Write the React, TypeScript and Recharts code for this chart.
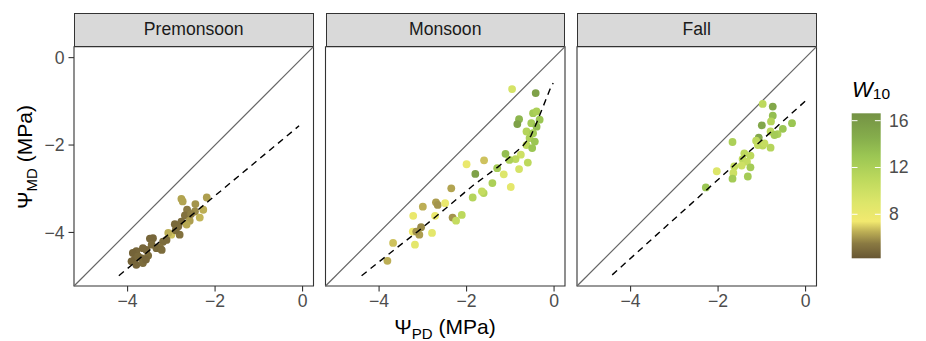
import React from 'react';
import { ScatterChart, Scatter, XAxis, YAxis, ReferenceLine, ReferenceArea } from 'recharts';

const FONT = '"Liberation Sans", Arial, Helvetica, sans-serif';
const DOMAIN: [number, number] = [-5.225, 0.25];
const AXIS_TICKS = [-4, -2, 0];
const PANEL_TITLES = ['Premonsoon', 'Monsoon', 'Fall'];

// Premonsoon
const preX = [-2.77, -2.74, -2.45, -2.19, -2.27, -2.46, -2.35, -2.64, -2.69, -2.58, -2.77, -2.84, -2.92, -2.65, -2.81, -3.0, -3.07, -3.11, -3.19, -3.26, -3.42, -3.49, -3.45, -3.34, -3.22, -3.57, -3.65, -3.53, -3.68, -3.8, -3.88, -3.84, -3.91, -3.8, -3.65, -3.76, -3.58, -2.55, -2.9];
const preY = [-3.23, -3.29, -3.35, -3.2, -3.48, -3.52, -3.66, -3.48, -3.61, -3.73, -3.75, -3.86, -3.81, -3.82, -4.05, -4.05, -4.01, -4.17, -4.21, -4.34, -4.13, -4.14, -4.28, -4.36, -4.4, -4.4, -4.36, -4.53, -4.59, -4.43, -4.47, -4.62, -4.66, -4.74, -4.7, -4.55, -4.62, -3.58, -3.95];
const preW = [6.3, 6.3, 6.0, 6.2, 6.5, 5.8, 6.6, 5.5, 5.2, 6.2, 5.0, 5.0, 4.9, 6.4, 5.2, 6.8, 6.5, 5.0, 5.0, 5.2, 4.8, 4.8, 5.0, 4.9, 5.0, 4.8, 4.8, 5.0, 4.9, 4.8, 4.7, 4.8, 4.7, 4.8, 5.0, 4.9, 4.8, 5.6, 5.0];
const preFitX = [-4.2, -0.08];
const preFitY = [-4.99, -1.56];

// Monsoon
const monX = [-0.96, -0.42, -0.8, -0.84, -0.48, -0.4, -0.33, -0.52, -0.4, -0.63, -0.48, -0.56, -0.44, -0.63, -0.5, -0.6, -0.76, -0.88, -0.8, -1.11, -1.02, -1.3, -1.15, -0.99, -1.41, -1.61, -1.65, -1.86, -1.8, -1.6, -2.0, -2.35, -2.7, -2.66, -2.49, -3.0, -3.22, -2.72, -2.32, -2.11, -2.24, -3.04, -3.23, -3.08, -3.15, -2.79, -3.68, -3.18, -3.81];
const monY = [-0.72, -0.81, -1.41, -1.52, -1.27, -1.23, -1.42, -1.5, -1.58, -1.69, -1.73, -1.84, -1.92, -2.0, -2.07, -2.4, -2.22, -2.32, -2.55, -2.2, -2.34, -2.53, -2.67, -2.96, -2.87, -3.1, -3.06, -3.2, -2.66, -2.35, -2.44, -2.99, -3.31, -3.37, -3.33, -3.41, -3.62, -3.62, -3.66, -3.6, -3.73, -3.88, -3.98, -4.05, -3.98, -4.01, -4.24, -4.28, -4.65];
const monW = [9.5, 15.5, 14, 15.5, 12.5, 12, 13, 12.5, 13.5, 11.5, 12.5, 12, 13, 11, 13, 11, 10, 11, 9.5, 13.5, 12, 12.5, 9, 8.5, 12, 11.5, 10.5, 11.5, 15.5, 6.8, 8, 6.3, 6.2, 6.0, 8, 6.5, 8, 8, 6, 11, 10.5, 5.8, 7.6, 6.2, 6.0, 8.5, 6.8, 8.5, 6.5];
const monFitX = [-4.4, -3.76, -3.12, -2.5, -1.86, -1.28, -0.98, -0.73, -0.53, -0.39, -0.25, -0.1, -0.02];
const monFitY = [-4.99, -4.48, -3.98, -3.47, -2.93, -2.5, -2.25, -2.04, -1.79, -1.47, -1.12, -0.74, -0.58];

// Fall
const fallX = [-0.98, -0.75, -0.75, -0.79, -1.0, -0.31, -0.52, -0.8, -0.64, -0.71, -1.07, -1.67, -1.13, -1.09, -0.98, -0.94, -0.8, -1.4, -1.26, -1.44, -1.34, -1.46, -1.26, -1.63, -1.65, -2.03, -1.67, -1.32, -2.28];
const fallY = [-1.06, -1.12, -1.33, -1.46, -1.55, -1.5, -1.63, -1.69, -1.75, -1.77, -1.83, -1.93, -1.9, -2.0, -2.01, -1.96, -2.06, -2.19, -2.24, -2.32, -2.38, -2.47, -2.51, -2.49, -2.64, -2.6, -2.77, -2.72, -2.97];
const fallW = [11, 15, 13.5, 11.5, 15, 13, 13, 11, 12, 12.5, 15, 12, 11, 10.5, 11, 10.5, 11.5, 11, 11, 11, 10.5, 10, 12.5, 10.5, 10, 9, 12.5, 12.5, 13];
const fallFitX = [-4.42, 0.01];
const fallFitY = [-4.97, -0.98];

// Colour scale (W10)
const W_RANGE: [number, number] = [4.24, 16.63];
const LEGEND_TICKS = [8, 12, 16];
const COLOR_STOPS: [number, string][] = [
  [4.24, '#675633'],
  [5.5, '#8a7a42'],
  [6.5, '#bcae55'],
  [7.4, '#f2e96f'],
  [9, '#dde66a'],
  [11, '#bdd95d'],
  [13, '#9bc653'],
  [14.5, '#86ae4c'],
  [16.63, '#749244'],
];

const hex = (h: string) => [1, 3, 5].map((i) => parseInt(h.slice(i, i + 2), 16));
const colorFor = (w: number) => {
  if (w <= COLOR_STOPS[0][0]) return COLOR_STOPS[0][1];
  for (let i = 1; i < COLOR_STOPS.length; i++) {
    const [v1, c1] = COLOR_STOPS[i];
    const [v0, c0] = COLOR_STOPS[i - 1];
    if (w <= v1) {
      const t = (w - v0) / (v1 - v0);
      const a = hex(c0), b = hex(c1);
      const c = a.map((x, k) => Math.round(x + (b[k] - x) * t));
      return `rgb(${c[0]},${c[1]},${c[2]})`;
    }
  }
  return COLOR_STOPS[COLOR_STOPS.length - 1][1];
};

const zip = (xs: number[], ys: number[], ws?: number[]) =>
  xs.map((x, i) => ({ x, y: ys[i], w: ws ? ws[i] : 0 }));

const fmt = (v: number) => (v < 0 ? '\u2212' + Math.abs(v) : String(v));

const PLOT_TOP = 46.7;
const PLOT_BOTTOM = 286;
const PLOT_W = 239.5;

type PanelProps = {
  title: string;
  chartLeft: number;
  chartWidth: number;
  marginLeft: number;
  marginRight: number;
  showY: boolean;
  points: { x: number; y: number; w: number }[];
  fit: { x: number; y: number; w: number }[];
};

const Dot = (props: any) => {
  const { cx, cy, payload } = props;
  if (cx == null || cy == null) return <g />;
  return <circle cx={cx} cy={cy} r={3.9} fill={colorFor(payload.w)} />;
};

const Panel = ({ title, chartLeft, chartWidth, marginLeft, marginRight, showY, points, fit }: PanelProps) => {
  const yWidth = showY ? 74 : 0;
  const plotLeft = chartLeft + marginLeft + yWidth;
  return (
    <>
      <div
        style={{
          position: 'absolute',
          left: plotLeft,
          top: 12.5,
          width: PLOT_W,
          height: PLOT_TOP - 12.5,
          boxSizing: 'border-box',
          background: '#d9d9d9',
          border: '1.1px solid #333',
          display: 'flex',
          alignItems: 'center',
          justifyContent: 'center',
          fontFamily: FONT,
          fontSize: 17.6,
          color: '#1a1a1a',
        }}
      >
        {title}
      </div>
      <div style={{ position: 'absolute', left: chartLeft, top: 0 }}>
        <ScatterChart
          width={chartWidth}
          height={341}
          margin={{ top: PLOT_TOP, right: marginRight, bottom: 0, left: marginLeft }}
        >
          <XAxis
            type="number"
            dataKey="x"
            domain={DOMAIN}
            allowDataOverflow
            ticks={AXIS_TICKS}
            interval={0}
            tickFormatter={fmt}
            axisLine={false}
            tickLine={{ stroke: '#333', strokeWidth: 1.1 }}
            tickSize={5.5}
            tickMargin={3}
            height={341 - PLOT_BOTTOM}
            tick={{ fill: '#4d4d4d', fontSize: 17.6, fontFamily: FONT }}
          />
          {showY ? (
            <YAxis
              type="number"
              dataKey="y"
              domain={DOMAIN}
              allowDataOverflow
              ticks={AXIS_TICKS}
              interval={0}
              tickFormatter={fmt}
              axisLine={false}
              tickLine={{ stroke: '#333', strokeWidth: 1.1 }}
              tickSize={5.5}
              tickMargin={4}
              width={74}
              tick={{ fill: '#4d4d4d', fontSize: 17.6, fontFamily: FONT }}
            />
          ) : (
            <YAxis type="number" dataKey="y" domain={DOMAIN} allowDataOverflow hide width={0} />
          )}
          <ReferenceLine
            segment={[
              { x: DOMAIN[0], y: DOMAIN[0] },
              { x: DOMAIN[1], y: DOMAIN[1] },
            ]}
            stroke="#666"
            strokeWidth={1.2}
            ifOverflow="visible"
          />
          <Scatter data={points} shape={Dot} isAnimationActive={false} />
          <Scatter
            data={fit}
            line={{ stroke: '#000', strokeWidth: 1.4, strokeDasharray: '6.5 5' }}
            lineType="joint"
            shape={() => <g />}
            isAnimationActive={false}
          />
          <ReferenceArea
            x1={DOMAIN[0]}
            x2={DOMAIN[1]}
            y1={DOMAIN[0]}
            y2={DOMAIN[1]}
            fill="none"
            fillOpacity={0}
            stroke="#333"
            strokeWidth={1.1}
            ifOverflow="visible"
          />
        </ScatterChart>
      </div>
    </>
  );
};

export default function App() {
  const barX = 851.7, barTop = 113.3, barBottom = 258.3, barW = 29;
  const vToY = (v: number) => barBottom - ((v - W_RANGE[0]) / (W_RANGE[1] - W_RANGE[0])) * (barBottom - barTop);
  return (
    <div style={{ position: 'absolute', left: 0, top: 0, width: 926, height: 341, background: '#fff', overflow: 'hidden' }}>
      <Panel title={PANEL_TITLES[0]} chartLeft={0} chartWidth={320} marginLeft={0} marginRight={320 - 74 - PLOT_W} showY points={zip(preX, preY, preW)} fit={zip(preFitX, preFitY)} />
      <Panel title={PANEL_TITLES[1]} chartLeft={320} chartWidth={250} marginLeft={5.5} marginRight={250 - 5.5 - PLOT_W} showY={false} points={zip(monX, monY, monW)} fit={zip(monFitX, monFitY)} />
      <Panel title={PANEL_TITLES[2]} chartLeft={570} chartWidth={250} marginLeft={7} marginRight={250 - 7 - PLOT_W} showY={false} points={zip(fallX, fallY, fallW)} fit={zip(fallFitX, fallFitY)} />
      <svg width={926} height={341} style={{ position: 'absolute', left: 0, top: 0, pointerEvents: 'none' }} fontFamily={FONT}>
        <defs>
          <linearGradient id="wgrad" x1="0" y1="1" x2="0" y2="0">
            {COLOR_STOPS.map(([v, c]) => (
              <stop key={v} offset={(v - W_RANGE[0]) / (W_RANGE[1] - W_RANGE[0])} stopColor={c} />
            ))}
          </linearGradient>
        </defs>
        <text transform="translate(32,157) rotate(-90)" textAnchor="middle" fontSize={21} fill="#000">
          Ψ<tspan dy={5} fontSize={15}>MD</tspan>
          <tspan dy={-5}> (MPa)</tspan>
        </text>
        <text x={445} y={334} textAnchor="middle" fontSize={21} fill="#000">
          Ψ<tspan dy={5} fontSize={15}>PD</tspan>
          <tspan dy={-5}> (MPa)</tspan>
        </text>
        <text x={852} y={97} fontSize={22} fill="#000">
          <tspan fontStyle="italic">W</tspan>
          <tspan dy={2} fontSize={15.5}>10</tspan>
        </text>
        <rect x={barX} y={barTop} width={barW} height={barBottom - barTop} fill="url(#wgrad)" />
        {LEGEND_TICKS.map((v) => (
          <g key={v}>
            <line x1={barX} x2={barX + 5.8} y1={vToY(v)} y2={vToY(v)} stroke="#fff" strokeWidth={1} />
            <line x1={barX + barW - 5.8} x2={barX + barW} y1={vToY(v)} y2={vToY(v)} stroke="#fff" strokeWidth={1} />
            <text x={889} y={vToY(v)} dominantBaseline="central" fontSize={17.6} fill="#4d4d4d">
              {v}
            </text>
          </g>
        ))}
      </svg>
    </div>
  );
}
